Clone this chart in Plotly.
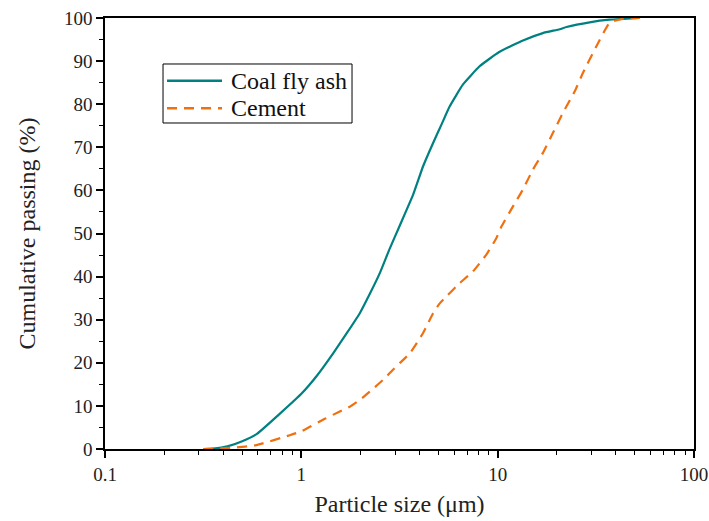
import plotly.graph_objects as go

fly_x = [0.32, 0.355, 0.42, 0.5, 0.594, 0.778, 1.0, 1.2, 1.452, 1.7, 1.985, 2.25, 2.51, 2.82, 3.17, 3.71, 4.17, 4.69, 5.2, 5.7, 6.66, 8.09, 10.18, 13.45, 17.0, 20.7, 22.4, 29.4, 37.2, 52.8]
fly_y = [0.0, 0.1, 0.6, 1.8, 3.5, 8.2, 12.8, 17.0, 22.2, 26.8, 31.5, 36.3, 40.8, 46.5, 51.8, 59.0, 65.6, 71.0, 75.5, 79.5, 84.6, 88.8, 92.1, 94.8, 96.5, 97.4, 97.9, 99.0, 99.6, 100.0]

cem_x = [0.316, 0.45, 0.59, 0.874, 1.0, 1.317, 1.57, 1.766, 2.0, 2.23, 2.66, 2.93, 3.17, 3.57, 4.17, 4.69, 5.07, 5.48, 6.41, 7.48, 8.76, 9.84, 10.45, 11.97, 13.45, 15.1, 17.0, 19.1, 21.5, 24.7, 27.2, 31.8, 37.2, 43.4, 52.8]
cem_y = [0.0, 0.3, 0.9, 3.2, 4.1, 7.0, 8.7, 9.8, 11.5, 13.3, 16.4, 18.4, 19.9, 22.2, 26.9, 31.5, 33.8, 35.4, 38.5, 41.2, 45.1, 48.9, 51.6, 56.3, 60.2, 64.8, 68.7, 73.3, 78.0, 83.0, 87.3, 93.4, 98.9, 99.8, 100.0]

series_names = ["Coal fly ash", "Cement"]
series_colors = ["#008080", "#F07010"]
series_dash = ["solid", "10px,7px"]

x_tickvals = [0.1, 1, 10, 100]
x_ticktext = ["0.1", "1", "10", "100"]

FONT = "Liberation Serif"

fig = go.Figure()
for xs, ys, nm, col, ds in zip([fly_x, cem_x], [fly_y, cem_y], series_names, series_colors, series_dash):
    fig.add_trace(go.Scatter(x=xs, y=ys, mode="lines", name=nm, showlegend=False,
                             line=dict(color=col, width=2.2, dash=ds, shape="spline", smoothing=0.4)))

# legend drawn as a framed key (paper coordinates)
shapes = [dict(type="rect", xref="paper", yref="paper", x0=0.0985, x1=0.4194, y0=0.7564, y1=0.8933,
               line=dict(color="black", width=1), fillcolor="white", layer="above")]
annotations = []
row_y = [0.8545, 0.7905]
for nm, col, ds, ry in zip(series_names, series_colors, series_dash, row_y):
    shapes.append(dict(type="line", xref="paper", yref="paper", x0=0.1053, x1=0.1987, y0=ry, y1=ry,
                       line=dict(color=col, width=2.4, dash=ds), layer="above"))
    annotations.append(dict(text=nm, xref="paper", yref="paper", x=0.2105, y=ry, xanchor="left",
                            yanchor="middle", showarrow=False,
                            font=dict(family=FONT, size=24, color="#111")))

fig.update_layout(
    width=709, height=521,
    margin=dict(l=105, r=15, t=18, b=72),
    paper_bgcolor="white", plot_bgcolor="white",
    font=dict(family=FONT, size=19, color="#222"),
    showlegend=False,
    shapes=shapes, annotations=annotations,
    xaxis=dict(type="log", range=[-1, 2], showline=True, linecolor="black", linewidth=1.5,
               mirror=True, ticks="outside", ticklen=7, tickwidth=1.5, tickcolor="black",
               tickvals=x_tickvals, ticktext=x_ticktext,
               showgrid=False, zeroline=False, automargin=False,
               minor=dict(ticks="outside", ticklen=4, tickwidth=1.2, tickcolor="black",
                          tickvals=[a * b for b in [0.1, 1, 10] for a in range(2, 10)], showgrid=False),
               title=dict(text="Particle size (μm)", font=dict(family=FONT, size=24), standoff=12),
               tickfont=dict(family=FONT, size=19)),
    yaxis=dict(range=[0, 100], showline=True, linecolor="black", linewidth=1.5,
               mirror=True, ticks="outside", ticklen=7, tickwidth=1.5, tickcolor="black",
               dtick=10, showgrid=False, zeroline=False, automargin=False,
               minor=dict(ticks="outside", ticklen=4, tickwidth=1.2, tickcolor="black", dtick=5, showgrid=False),
               title=dict(text="Cumulative passing (%)", font=dict(family=FONT, size=24), standoff=22),
               tickfont=dict(family=FONT, size=19)),
)

fig.write_html("out.html")
